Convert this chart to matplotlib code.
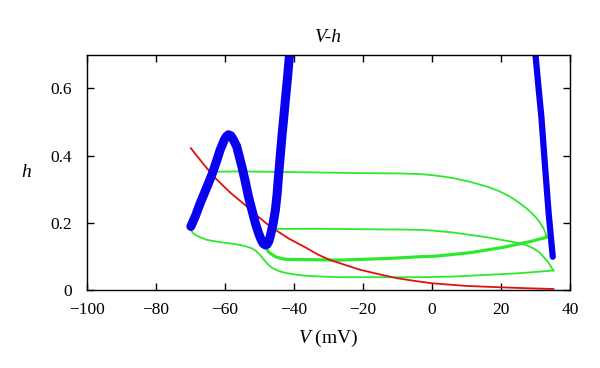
import matplotlib
matplotlib.use("Agg")
import matplotlib.pyplot as plt

plt.rcParams['font.family'] = ['Liberation Serif', 'DejaVu Serif']
plt.rcParams['mathtext.fontset'] = 'custom'
plt.rcParams['mathtext.rm'] = 'Liberation Serif'
plt.rcParams['mathtext.it'] = 'Liberation Serif:italic'

# Blue thick curve (left branch and right branch)
blue_left_v = [-69.9, -68.5, -67.2, -65.5, -63.8, -62.5, -61.4, -60.2, -59.6, -59.0, -58.3,
               -57.6, -56.6, -55.1, -54.1, -53.2, -52.2, -51.2, -50.3, -49.5, -48.9, -48.3,
               -47.8, -47.3, -46.9, -46.1, -45.4, -44.9, -44.5, -44.0, -43.5, -43.0, -42.5,
               -41.9, -41.3]
blue_left_h = [0.189, 0.222, 0.258, 0.300, 0.343, 0.382, 0.417, 0.447, 0.457, 0.462, 0.459,
               0.448, 0.427, 0.367, 0.322, 0.278, 0.238, 0.199, 0.170, 0.149, 0.138, 0.134,
               0.136, 0.145, 0.159, 0.195, 0.238, 0.285, 0.338, 0.397, 0.457, 0.510, 0.566,
               0.630, 0.700]
blue_right_v = [30.0, 30.9, 31.7, 32.7, 33.8, 35.0]
blue_right_h = [0.700, 0.600, 0.516, 0.377, 0.230, 0.099]

# Red curve
red_v = [-69.9, -66.5, -63.3, -58.5, -53.6, -50.0, -46.9, -41.5, -36.2, -33.0, -29.5, -25.0,
         -20.8, -15.0, -10.1, -5.0, 0.0, 10.0, 20.0, 28.0, 35.2]
red_h = [0.422, 0.378, 0.338, 0.290, 0.248, 0.215, 0.189, 0.153, 0.124, 0.105, 0.089, 0.074,
         0.060, 0.046, 0.035, 0.027, 0.020, 0.012, 0.008, 0.005, 0.003]

# Green trajectories
g_upper_v = [-63.8, -55.0, -41.2, -21.8, -10.0, -3.5, 0.0, 3.0, 6.2, 11.0, 15.9, 19.5, 22.6,
             25.2, 27.4, 29.0, 30.3, 31.4, 32.3, 32.9, 33.2]
g_upper_h = [0.352, 0.353, 0.351, 0.348, 0.347, 0.345, 0.342, 0.338, 0.333, 0.322, 0.308,
             0.294, 0.278, 0.260, 0.243, 0.228, 0.214, 0.199, 0.184, 0.170, 0.157]

g_return_v = [33.2, 28.4, 20.7, 11.0, 1.4, -3.5, -12.2, -26.7, -41.2, -42.0, -43.8, -45.4,
              -46.4, -47.4, -48.3]
g_return_h = [0.157, 0.144, 0.127, 0.111, 0.101, 0.099, 0.094, 0.089, 0.091, 0.091, 0.094,
              0.099, 0.106, 0.114, 0.129]

g_mid_v = [-45.4, -32.4, -21.8, -10.0, -3.5, 0.0, 6.2, 15.9, 24.5, 27.4, 29.4, 31.0, 32.3,
           33.4, 34.2, 35.2]
g_mid_h = [0.182, 0.182, 0.181, 0.180, 0.179, 0.177, 0.171, 0.157, 0.141, 0.133, 0.124,
           0.113, 0.099, 0.086, 0.074, 0.058]

g_bottom_v = [35.2, 25.5, 15.9, 6.2, -3.5, -12.2, -26.7, -32.4, -36.2, -39.0, -42.0, -44.0,
              -45.9, -46.9, -47.8, -48.8, -49.8, -51.0, -52.2, -54.0, -55.6, -58.0, -60.4,
              -63.0, -65.2, -67.0, -68.6, -69.4, -69.9]
g_bottom_h = [0.058, 0.050, 0.045, 0.040, 0.038, 0.038, 0.038, 0.040, 0.042, 0.045, 0.050,
              0.055, 0.063, 0.070, 0.079, 0.091, 0.104, 0.116, 0.124, 0.130, 0.134, 0.138,
              0.141, 0.145, 0.149, 0.156, 0.164, 0.171, 0.179]

x_ticks = [-100, -80, -60, -40, -20, 0, 20, 40]
x_tick_labels = ['\u2212100', '\u221280', '\u221260', '\u221240', '\u221220', '0', '20', '40']
y_ticks = [0, 0.2, 0.4, 0.6]
y_tick_labels = ['0', '0.2', '0.4', '0.6']

fig = plt.figure(figsize=(6.0, 3.68), dpi=100)
ax = fig.add_axes([0.145, 0.212, 0.805, 0.639])

green = '#2ee82e'
ax.plot(g_upper_v, g_upper_h, color=green, lw=1.3, solid_joinstyle='round')
ax.plot(g_return_v, g_return_h, color=green, lw=2.3, solid_joinstyle='round')
ax.plot(g_mid_v, g_mid_h, color=green, lw=1.3, solid_joinstyle='round')
ax.plot(g_bottom_v, g_bottom_h, color=green, lw=1.3, solid_joinstyle='round')

ax.plot(red_v, red_h, color='#e01010', lw=1.3)

ax.plot(blue_left_v, blue_left_h, color='#0a00f0', lw=6.5, solid_capstyle='round',
        solid_joinstyle='round')
ax.plot(blue_right_v, blue_right_h, color='#0a00f0', lw=4.5, solid_capstyle='round',
        solid_joinstyle='round')

ax.set_xlim(-100, 40)
ax.set_ylim(0, 0.7)
ax.set_xticks(x_ticks)
ax.set_xticklabels(x_tick_labels)
ax.set_yticks(y_ticks)
ax.set_yticklabels(y_tick_labels)
ax.tick_params(direction='in', length=5, width=1, top=True, right=True, labelsize=12.5)
ax.tick_params(axis='x', pad=9)
ax.tick_params(axis='y', pad=11)
for s in ax.spines.values():
    s.set_linewidth(1.0)

ax.set_title('V-h', fontstyle='italic', fontsize=14, pad=9)
ax.set_xlabel('$V$ (mV)', fontsize=14, labelpad=7)
ax.set_ylabel('h', fontstyle='italic', fontsize=14, rotation=0, labelpad=17, va='center')

fig.savefig('out.png', dpi=100)
